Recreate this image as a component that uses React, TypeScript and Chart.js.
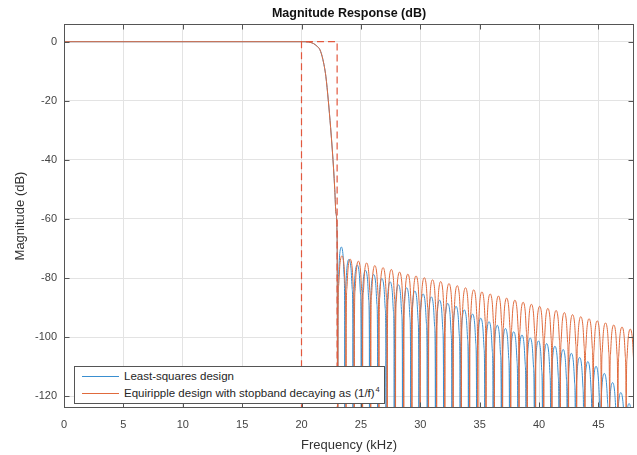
import React, { useEffect, useRef } from "react";
import { Chart, registerables } from "chart.js";

Chart.register(...registerables);

const FONT = '"Liberation Sans", Arial, Helvetica, sans-serif';

const chartTitle = "Magnitude Response (dB)";
const xAxisTitle = "Frequency (kHz)";
const yAxisTitle = "Magnitude (dB)";
const lsLabel = "Least-squares design";
const eqLabel = "Equiripple design with stopband decaying as (1/f)";
const eqLabelExponent = "4";

const xTickValues = [0, 5, 10, 15, 20, 25, 30, 35, 40, 45];
const yTickValues = [0, -20, -40, -60, -80, -100, -120];
const xLimits = [0, 48];
const yLimits = [-124, 6];

// Passband and transition band (both designs overlap here)
const transitionKHz = [0, 20, 20.6, 21.0, 21.3, 21.55, 21.8, 22.05, 22.26, 22.45, 22.6, 22.7, 22.8, 22.9, 23.0];
const transitionDb = [0, 0, -0.1, -0.6, -1.5, -2.7, -6, -11.7, -20, -29, -37, -43, -50, -58, -67];

// Stopband: null frequencies (kHz) and lobe peak levels (dB) – least-squares design
const lsNullsKHz = [23.06, 23.65, 24.34, 25.04, 25.73, 26.42, 27.12, 27.81, 28.51, 29.2, 29.89, 30.59, 31.28, 31.97, 32.67, 33.36, 34.06, 34.75, 35.44, 36.14, 36.83, 37.52, 38.22, 38.91, 39.61, 40.3, 40.99, 41.69, 42.38, 43.07, 43.77, 44.46, 45.15, 45.85, 46.54, 47.24, 47.93];
const lsPeakDb = [-69.5, -73.7, -75.6, -77.4, -78.8, -80.2, -81.3, -82.3, -83.3, -84.4, -85.4, -86.4, -87.5, -88.6, -89.6, -90.8, -92.2, -93.6, -94.8, -96.0, -97.1, -98.2, -99.3, -100.3, -101.3, -102.2, -103.1, -104.2, -105.5, -106.9, -108.3, -109.9, -112.3, -115.4, -118.8, -122.5];

// Stopband: null frequencies (kHz) and lobe peak levels (dB) – equiripple (1/f)^4 design
const eqNullsKHz = [23.06, 23.75, 24.44, 25.14, 25.83, 26.52, 27.22, 27.91, 28.61, 29.3, 29.99, 30.69, 31.38, 32.07, 32.77, 33.46, 34.16, 34.85, 35.54, 36.24, 36.93, 37.62, 38.32, 39.01, 39.71, 40.4, 41.09, 41.79, 42.48, 43.17, 43.87, 44.56, 45.25, 45.95, 46.64, 47.34, 48.03];
const eqPeakDb = [-72.5, -73.6, -74.3, -74.9, -75.8, -76.5, -77.1, -78.0, -78.7, -79.3, -79.9, -80.6, -81.2, -81.9, -82.6, -83.3, -84.0, -84.7, -85.4, -86.1, -86.8, -87.5, -88.2, -88.9, -89.6, -90.3, -91.0, -91.7, -92.4, -93.1, -93.8, -94.5, -95.2, -95.9, -96.6, -97.3];

// Specification mask (dashed)
const maskKHz = [20, 20, 23, 23];
const maskDb = [-140, 0, 0, -140];

const NULL_DB = -170;
// lobe outline relative to its centre: [fraction of half-width, dB below peak]
const LOBE_SHAPE: [number, number][] = [
  [-0.95, -22], [-0.8, -10], [-0.5, -3], [0, 0], [0.5, -3], [0.8, -10], [0.95, -22],
];

const LS_COLOR = "#3a8fd0";
const EQ_COLOR = "#e06a3c";
const MASK_COLOR = "#e2583e";
const GRID_COLOR = "#e3e3e3";
const AXIS_COLOR = "#555555";
const TEXT_COLOR = "#444444";

function buildSeries(nulls: number[], peaks: number[]) {
  const pts: { x: number; y: number }[] = transitionKHz.map((x, i) => ({ x, y: transitionDb[i] }));
  for (let i = 0; i < peaks.length; i++) {
    const a = nulls[i];
    const b = nulls[i + 1];
    const c = (a + b) / 2;
    const h = (b - a) / 2;
    pts.push({ x: a, y: NULL_DB });
    for (const [dx, dy] of LOBE_SHAPE) pts.push({ x: c + dx * h, y: peaks[i] + dy });
  }
  pts.push({ x: nulls[nulls.length - 1], y: NULL_DB });
  return pts;
}

// centre the title over the plot area (as MATLAB does)
const titleOverPlotPlugin = {
  id: "titleOverPlot",
  afterLayout(chart: any) {
    const tb = chart.titleBlock;
    if (tb) {
      tb.left = chart.chartArea.left;
      tb.right = chart.chartArea.right;
    }
  },
};

const framePlugin = {
  id: "matlabFrame",
  afterDatasetsDraw(chart: any) {
    const { ctx, chartArea: a, scales } = chart;
    ctx.save();
    ctx.strokeStyle = AXIS_COLOR;
    ctx.lineWidth = 1;
    const l = Math.round(a.left) + 0.5;
    const r = Math.round(a.right) - 0.5;
    const t = Math.round(a.top) + 0.5;
    const b = Math.round(a.bottom) - 0.5;
    ctx.strokeRect(l, t, r - l, b - t);
    const L = 5;
    ctx.beginPath();
    for (const v of xTickValues) {
      const px = Math.round(scales.x.getPixelForValue(v)) + 0.5;
      ctx.moveTo(px, b);
      ctx.lineTo(px, b - L);
      ctx.moveTo(px, t);
      ctx.lineTo(px, t + L);
    }
    for (const v of yTickValues) {
      const py = Math.round(scales.y.getPixelForValue(v)) + 0.5;
      ctx.moveTo(l, py);
      ctx.lineTo(l + L, py);
      ctx.moveTo(r, py);
      ctx.lineTo(r - L, py);
    }
    ctx.stroke();
    ctx.restore();
  },
};

export default function App() {
  const ref = useRef<HTMLCanvasElement | null>(null);

  useEffect(() => {
    document.body.style.margin = "0";
    if (!ref.current) return;
    const chart = new Chart(ref.current, {
      type: "line",
      data: {
        datasets: [
          {
            label: lsLabel,
            data: buildSeries(lsNullsKHz, lsPeakDb),
            borderColor: LS_COLOR,
            borderWidth: 1,
            pointRadius: 0,
            cubicInterpolationMode: "monotone",
            order: 2,
          },
          {
            label: eqLabel + eqLabelExponent,
            data: buildSeries(eqNullsKHz, eqPeakDb),
            borderColor: EQ_COLOR,
            borderWidth: 1,
            pointRadius: 0,
            cubicInterpolationMode: "monotone",
            order: 1,
          },
          {
            label: "Mask",
            data: maskKHz.map((x, i) => ({ x, y: maskDb[i] })),
            borderColor: MASK_COLOR,
            borderWidth: 1.2,
            borderDash: [7, 4],
            pointRadius: 0,
            tension: 0,
            order: 0,
          },
        ] as any,
      },
      options: {
        animation: false,
        responsive: false,
        devicePixelRatio: 1,
        events: [],
        layout: { padding: { left: 0, right: 3, top: 0, bottom: 0 } },
        plugins: {
          legend: { display: false },
          tooltip: { enabled: false },
          title: {
            display: true,
            text: chartTitle,
            color: "#111",
            font: { family: FONT, size: 12.5, weight: "bold" },
            padding: { top: 6, bottom: 3 },
          },
        },
        scales: {
          x: {
            type: "linear",
            min: xLimits[0],
            max: xLimits[1],
            afterBuildTicks: (s: any) => {
              s.ticks = xTickValues.map((v) => ({ value: v }));
            },
            afterFit: (s: any) => {
              s.height = 47;
            },
            grid: { color: GRID_COLOR, drawTicks: false },
            border: { display: false },
            ticks: {
              autoSkip: false,
              maxRotation: 0,
              padding: 10,
              color: TEXT_COLOR,
              font: { family: FONT, size: 11 },
            },
            title: {
              display: true,
              text: xAxisTitle,
              color: "#333",
              font: { family: FONT, size: 13 },
              padding: { top: 0, bottom: 2 },
            },
          },
          y: {
            type: "linear",
            min: yLimits[0],
            max: yLimits[1],
            afterBuildTicks: (s: any) => {
              s.ticks = yTickValues.map((v) => ({ value: v }));
            },
            afterFit: (s: any) => {
              s.width = 64;
            },
            grid: { color: GRID_COLOR, drawTicks: false },
            border: { display: false },
            ticks: {
              autoSkip: false,
              padding: 7,
              color: TEXT_COLOR,
              font: { family: FONT, size: 11 },
            },
            title: {
              display: true,
              text: yAxisTitle,
              color: "#333",
              font: { family: FONT, size: 13 },
              padding: { top: 13, bottom: 0 },
            },
          },
        },
      } as any,
      plugins: [titleOverPlotPlugin, framePlugin],
    });
    return () => chart.destroy();
  }, []);

  const rowStyle: React.CSSProperties = {
    position: "absolute",
    left: 0,
    height: 14,
    width: "100%",
    display: "flex",
    alignItems: "center",
    whiteSpace: "nowrap",
  };
  const sample = (color: string): React.CSSProperties => ({
    marginLeft: 7,
    width: 37,
    height: 0,
    borderTop: `1px solid ${color}`,
    marginRight: 5,
  });

  return (
    <div style={{ position: "relative", width: 637, height: 455, background: "#fff" }}>
      <canvas ref={ref} width={637} height={455} style={{ display: "block" }} />
      <div
        style={{
          position: "absolute",
          left: 74,
          top: 366,
          width: 311,
          height: 38,
          boxSizing: "border-box",
          border: `1px solid ${AXIS_COLOR}`,
          background: "#fff",
          fontFamily: FONT,
          fontSize: 11.5,
          color: "#262626",
        }}
      >
        <div style={{ ...rowStyle, top: 2 }}>
          <span style={sample(LS_COLOR)} />
          <span>{lsLabel}</span>
        </div>
        <div style={{ ...rowStyle, top: 19 }}>
          <span style={sample(EQ_COLOR)} />
          <span>
            {eqLabel}
            <sup style={{ fontSize: 7.5, verticalAlign: 0, position: "relative", top: -5, marginLeft: 1 }}>
              {eqLabelExponent}
            </sup>
          </span>
        </div>
      </div>
    </div>
  );
}
